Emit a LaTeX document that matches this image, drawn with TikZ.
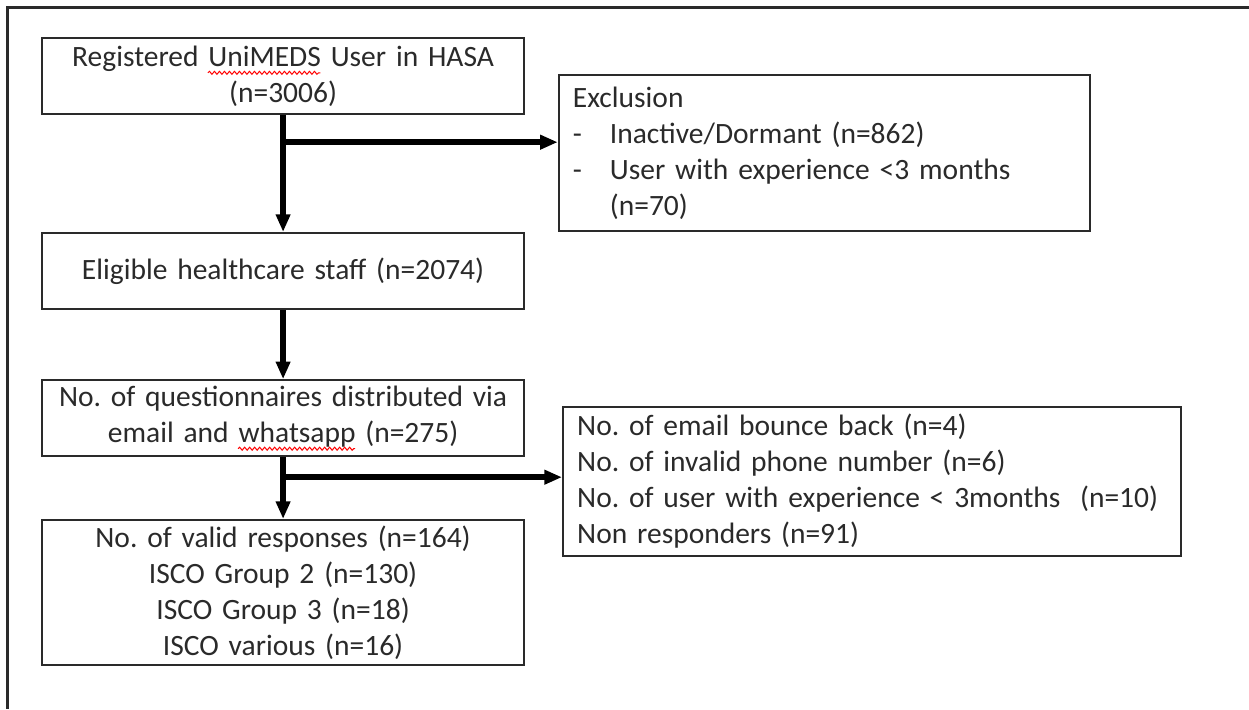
\documentclass[tikz,border=0pt]{standalone}
\usepackage{fontspec}
\setmainfont{Carlito}
\usetikzlibrary{calc,arrows.meta,decorations.pathmorphing}
\definecolor{encre}{HTML}{2A2A2A}
\newsavebox{\motbox}
\newlength{\motlong}
\newcommand{\vague}[1]{\sbox{\motbox}{#1}\setlength{\motlong}{\wd\motbox}\usebox{\motbox}\llap{\tikz[baseline=0pt]\draw[red, line width=0.4pt, decorate, decoration={snake, amplitude=0.6pt, segment length=2pt}] (0,-2.6pt) -- (\motlong,-2.6pt);}}
\frenchspacing

\begin{document}
\begin{tikzpicture}
        \tikzstyle {boite} = [rectangle, text width=6.58cm, minimum height=1.07cm, inner xsep=0.1cm, inner ysep=2pt, align=center, draw=encre, line width=0.8pt, text=encre, font=\fontsize{11.8}{14.4}\selectfont]
        \tikzstyle {liste} = [boite, align=left, inner xsep=0.2cm]
        \tikzstyle {fleche} = [line width=2.2pt, -{Triangle[length=7pt,width=5.5pt]}]
        \useasboundingbox (0,0) rectangle (17.56,-9.97);
        % Cadre
        \draw[line width=1.2pt, encre] (17.56,-0.1) -- (0.1,-0.1) -- (0.1,-9.97);
        % Colonne principale
        \node (registered) [boite] at (3.98,-1.07) {Registered \vague{UniMEDS} User in HASA\\(n=3006)};
        \node (eligible) [boite, below of=registered, yshift=-1.74cm] {Eligible healthcare staff (n=2074)};
        \node (distributed) [boite, below of=eligible, yshift=-1.07cm] {No. of questionnaires distributed via\\email and \vague{whatsapp} (n=275)};
        \node (valid) [boite, below of=distributed, yshift=-1.45cm, minimum height=2.04cm] {No. of valid responses (n=164)\\ISCO Group 2 (n=130)\\ISCO Group 3 (n=18)\\ISCO various (n=16)};
        \draw[fleche] (registered.south) -- (eligible.north);
        \draw[fleche] (eligible.south) -- (distributed.north);
        \draw[fleche] (distributed.south) -- (valid.north);
        % Exclusions
        \node (exclusion) [liste, right of=registered, xshift=6.61cm, yshift=-1.08cm, text width=7.07cm, minimum height=2.19cm] {Exclusion\\
        \makebox[0.52cm][l]{-}Inactive/Dormant (n=862)\\
        \makebox[0.52cm][l]{-}User with experience <3 months\\
        \hspace*{0.52cm}(n=70)};
        \coordinate (branche_exclusion) at ($(registered.south)+(0,-0.38)$);
        \draw[fleche] (branche_exclusion) -- (branche_exclusion -| exclusion.west);
        % Pertes
        \node (bounced) [liste, right of=distributed, xshift=7.28cm, yshift=-0.89cm, text width=8.29cm, minimum height=2.09cm] {No. of email bounce back (n=4)\\
        No. of invalid phone number (n=6)\\
        No. of user with experience < 3months\ \ (n=10)\\
        Non responders (n=91)};
        \coordinate (branche_pertes) at ($(distributed.south)+(0,-0.28)$);
        \draw[fleche] (branche_pertes) -- (branche_pertes -| bounced.west);
    \end{tikzpicture}
\end{document}
